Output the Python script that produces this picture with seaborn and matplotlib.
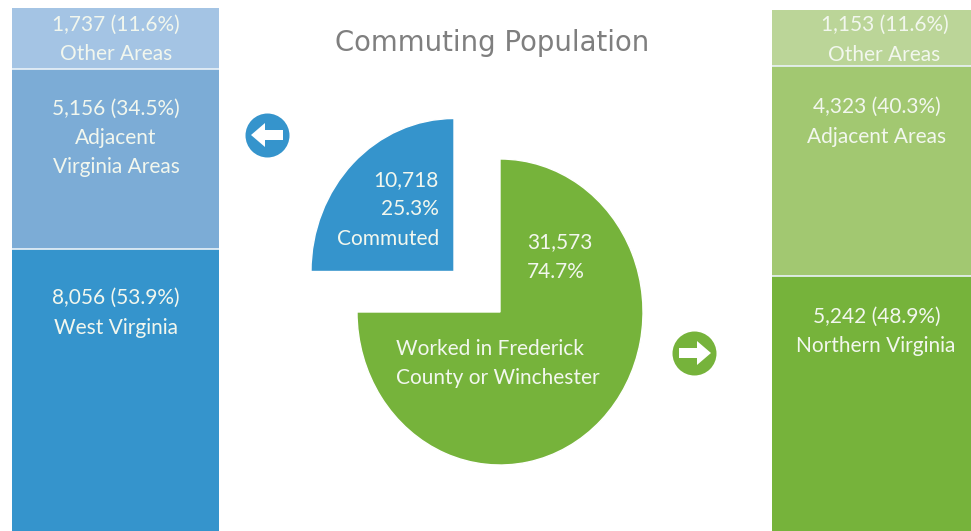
import pandas as pd
import seaborn as sns
import matplotlib.pyplot as plt

# === Data ===
left_areas = ["West Virginia", "Adjacent Virginia Areas", "Other Areas"]
left_values = [8056, 5156, 1737]
left_pct = [53.9, 34.5, 11.6]
right_areas = ["Northern Virginia", "Adjacent Areas", "Other Areas"]
right_values = [5242, 4323, 1153]
right_pct = [48.9, 40.3, 11.6]
pie_labels = ["Commuted", "Worked in Frederick County or Winchester"]
pie_values = [10718, 31573]
pie_pct = [25.3, 74.7]

# === Styles ===
W, H = 971, 531
left_colors = ["#3594CC", "#7CACD6", "#A4C4E4"]
right_colors = ["#76B33B", "#A2C871", "#BBD598"]
sns.set_theme(style="white")
plt.rcParams["font.family"] = ["Lato", "DejaVu Sans"]

fig = plt.figure(figsize=(W / 100, H / 100), dpi=100, facecolor="white")


def px_axes(x0, y0, x1, y1):
    # axes from pixel box, y measured from the top
    return fig.add_axes([x0 / W, 1 - y1 / H, (x1 - x0) / W, (y1 - y0) / H])


def stacked(ax, areas, values, colors):
    df = pd.DataFrame({"area": areas, "value": values, "color": colors})
    bottom = 0
    for _, row in df.iterrows():
        sns.barplot(x=[0], y=[row["value"]], bottom=bottom, width=1, color=row["color"],
                    saturation=1, linewidth=0, ax=ax)
        bottom += row["value"]
        if bottom < sum(values):
            ax.axhline(bottom, color="#EAF2F8", linewidth=1.2)
    ax.set_xlim(-0.5, 0.5)
    ax.set_ylim(0, bottom)
    ax.set_axis_off()


# === Stacked columns ===
stacked(px_axes(12, 8, 219, 531), left_areas, left_values, left_colors)
stacked(px_axes(772, 10, 980, 531), right_areas, right_values, right_colors)

# === Split pie ===
ax_pie = px_axes(357, 159, 643, 465)
wedges, _ = ax_pie.pie(pie_values, colors=[left_colors[0], right_colors[0]], startangle=90, radius=1)
ax_pie.set_aspect("auto")
ax_pie.set_xlim(-1, 1)
ax_pie.set_ylim(-1, 1)
ax_pie.set_axis_off()
# the original squares the slices off to a quarter and three quarters
wedges[0].set_theta1(90)
wedges[0].set_theta2(180)
wedges[1].set_theta1(180)
wedges[1].set_theta2(450)
wedges[0].set_center((-46 / 143, 40.5 / 153))
wedges[0].set_clip_on(False)

# === Overlay in pixel coordinates ===
ov = px_axes(0, 0, W, H)
ov.set_xlim(0, W)
ov.set_ylim(H, 0)
ov.set_axis_off()
ov.patch.set_alpha(0)

ov.text(492, 43, "Commuting Population", color="#7F7F7F", fontsize=19.8, family="DejaVu Sans",
        ha="center", va="center")


def label(x, y, s, ha="center", size=15):
    ov.text(x, y + 2, s, color="#F2F7EE", fontsize=size, ha=ha, va="center")


label(116, 23, f"{left_values[2]:,} ({left_pct[2]}%)")
label(116, 52, left_areas[2])
label(116, 107, f"{left_values[1]:,} ({left_pct[1]}%)")
label(116, 136, "Adjacent")
label(116, 165, "Virginia Areas")
label(116, 296, f"{left_values[0]:,} ({left_pct[0]}%)")
label(116, 326, left_areas[0])

label(885, 23, f"{right_values[2]:,} ({right_pct[2]}%)")
label(884, 53, right_areas[2])
label(877, 105, f"{right_values[1]:,} ({right_pct[1]}%)")
label(877, 135, right_areas[1])
label(877, 315, f"{right_values[0]:,} ({right_pct[0]}%)")
label(876, 344, right_areas[0])

label(439, 178, f"{pie_values[0]:,}", ha="right")
label(439, 207, f"{pie_pct[0]}%", ha="right")
label(439, 237, pie_labels[0], ha="right")
label(527, 240, f"{pie_values[1]:,}", ha="left")
label(527, 270, f"{pie_pct[1]}%", ha="left")
label(396, 347, "Worked in Frederick", ha="left")
label(396, 376, "County or Winchester", ha="left")

# === Arrow badges ===
ov.scatter([267], [135], s=1003, color=left_colors[0], linewidths=0, zorder=3)
ov.scatter([694], [353], s=1003, color=right_colors[0], linewidths=0, zorder=3)
ov.arrow(283, 135, -18, 0, width=10, head_width=24, head_length=14, length_includes_head=False,
         color="white", linewidth=0, zorder=4)
ov.arrow(679, 353, 18, 0, width=10, head_width=24, head_length=14, length_includes_head=False,
         color="white", linewidth=0, zorder=4)

fig.savefig("out.png", dpi=100, facecolor="white")
